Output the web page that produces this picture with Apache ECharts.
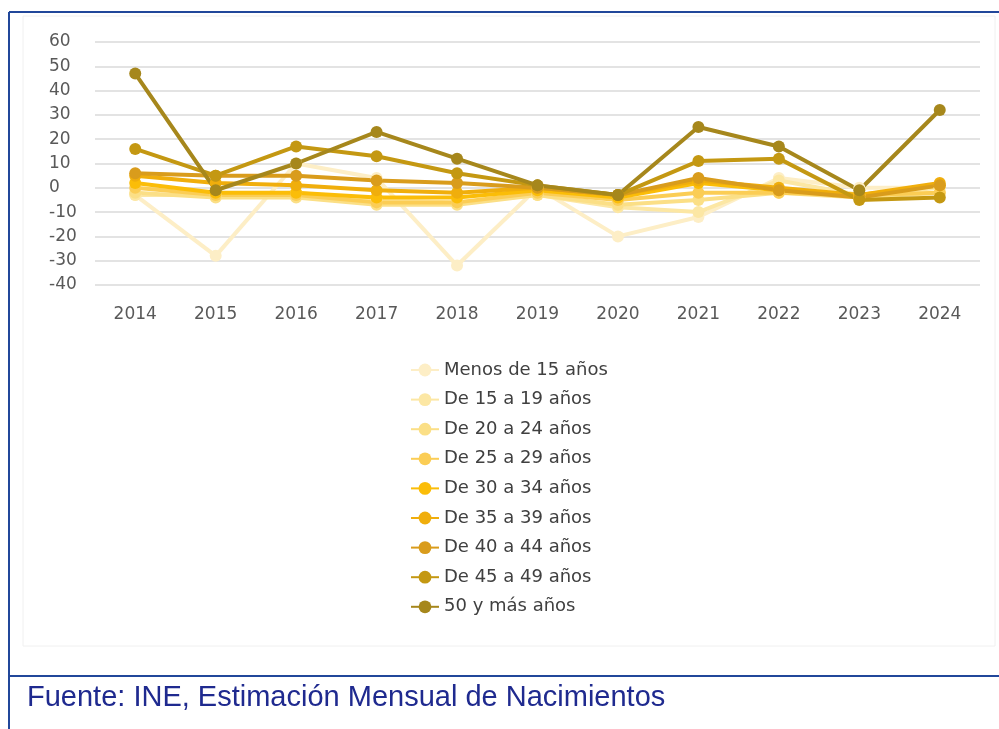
<!DOCTYPE html>
<html>
<head>
<meta charset="utf-8">
<title>Nacimientos por edad de la madre</title>
<script src="https://cdn.jsdelivr.net/npm/echarts@6/dist/echarts.min.js"></script>
<style>
  html, body { margin: 0; padding: 0; background: #fff; }
  #chart { width: 999px; height: 729px; }
</style>
</head>
<body>
<div id="chart"></div>
<script>
  // datos (variacion %)
  const years = ['2014', '2015', '2016', '2017', '2018', '2019', '2020', '2021', '2022', '2023', '2024'];
  const yTicks = [-40, 60, 10]; // min, max, intervalo

  const menos15 = [-3, -28, 10, 4, -32, 0, -20, -12, 4, 0, 0];
  const de15a19 = [-3, -3, -2, -5, -6, -3, -8, -10, 3, -3, 0];
  const de20a24 = [-2, -4, -4, -7, -7, -3, -7, -5, -2, -4, -2];
  const de25a29 = [0, -3, -3, -6, -6, -2, -5, -2, -2, -3, -2];
  const de30a34 = [2, -2, -2, -4, -4, -1, -4, 2, -1, -3, 1];
  const de35a39 = [5, 2, 1, -1, -2, 0, -3, 3, 0, -3, 2];
  const de40a44 = [6, 5, 5, 3, 2, 0, -3, 4, -1, -4, 1];
  const de45a49 = [16, 5, 17, 13, 6, 1, -3, 11, 12, -5, -4];
  const de50 = [47, -1, 10, 23, 12, 1, -3, 25, 17, -1, 32];

  const names = ['Menos de 15 años', 'De 15 a 19 años', 'De 20 a 24 años', 'De 25 a 29 años',
    'De 30 a 34 años', 'De 35 a 39 años', 'De 40 a 44 años', 'De 45 a 49 años', '50 y más años'];
  const values = [menos15, de15a19, de20a24, de25a29, de30a34, de35a39, de40a44, de45a49, de50];
  const colors = ['#fdeec6', '#fce7a4', '#fbdf86', '#fbcd55', '#fbbd08', '#f0ae0c', '#d99c1c', '#c49812', '#a6871c'];

  const chart = echarts.init(document.getElementById('chart'));

  let series = names.map(function (n, i) {
    return {
      name: n,
      type: 'line',
      data: values[i],
      symbol: 'circle',
      symbolSize: 12,
      lineStyle: { width: 4 },
      itemStyle: { color: colors[i] },
      emphasis: { disabled: true }
    }
  });

  chart.setOption({
    backgroundColor: '#fff',
    animation: false,
    color: colors,
    title: {
      text: 'Fuente: INE, Estimación Mensual de Nacimientos',
      left: 22,
      top: 678,
      textStyle: {
        fontFamily: 'Liberation Sans',
        fontSize: 29,
        fontWeight: 'normal',
        color: '#1f2a8f'
      }
    },
    // marco azul del recuadro
    graphic: [
      { type: 'rect', shape: { x: 23, y: 16, width: 972, height: 630 }, style: { fill: 'none', stroke: '#f0f0f0', lineWidth: 1 }, silent: true },
      { type: 'line', shape: { x1: 9, y1: 12, x2: 999, y2: 12 }, style: { stroke: '#21479a', lineWidth: 2 } },
      { type: 'line', shape: { x1: 9, y1: 12, x2: 9, y2: 729 }, style: { stroke: '#21479a', lineWidth: 2 } },
      { type: 'line', shape: { x1: 9, y1: 676, x2: 999, y2: 676 }, style: { stroke: '#21479a', lineWidth: 2 } }
    ],
    legend: {
      orient: 'vertical',
      left: 410,
      top: 361,
      padding: 0,
      itemWidth: 28,
      itemHeight: 16,
      itemGap: 11.6,
      data: names,
      textStyle: { fontFamily: 'DejaVu Sans', fontSize: 18, color: '#404040' }
    },
    grid: {
      left: 95,
      right: 19,
      top: 42,
      bottom: 444
    },
    xAxis: {
      type: 'category',
      data: years,
      boundaryGap: true,
      axisLine: { show: false },
      axisTick: { show: false },
      axisLabel: { margin: 21, fontFamily: 'DejaVu Sans', fontSize: 17, color: '#595959' }
    },
    yAxis: {
      type: 'value',
      min: yTicks[0],
      max: yTicks[1],
      interval: yTicks[2],
      axisLine: { show: false },
      axisTick: { show: false },
      axisLabel: { margin: 46, align: 'left', fontFamily: 'DejaVu Sans', fontSize: 17, color: '#595959' },
      splitLine: { lineStyle: { color: '#e3e3e3', width: 2 } }
    },
    series: series
  })
</script>
</body>
</html>
